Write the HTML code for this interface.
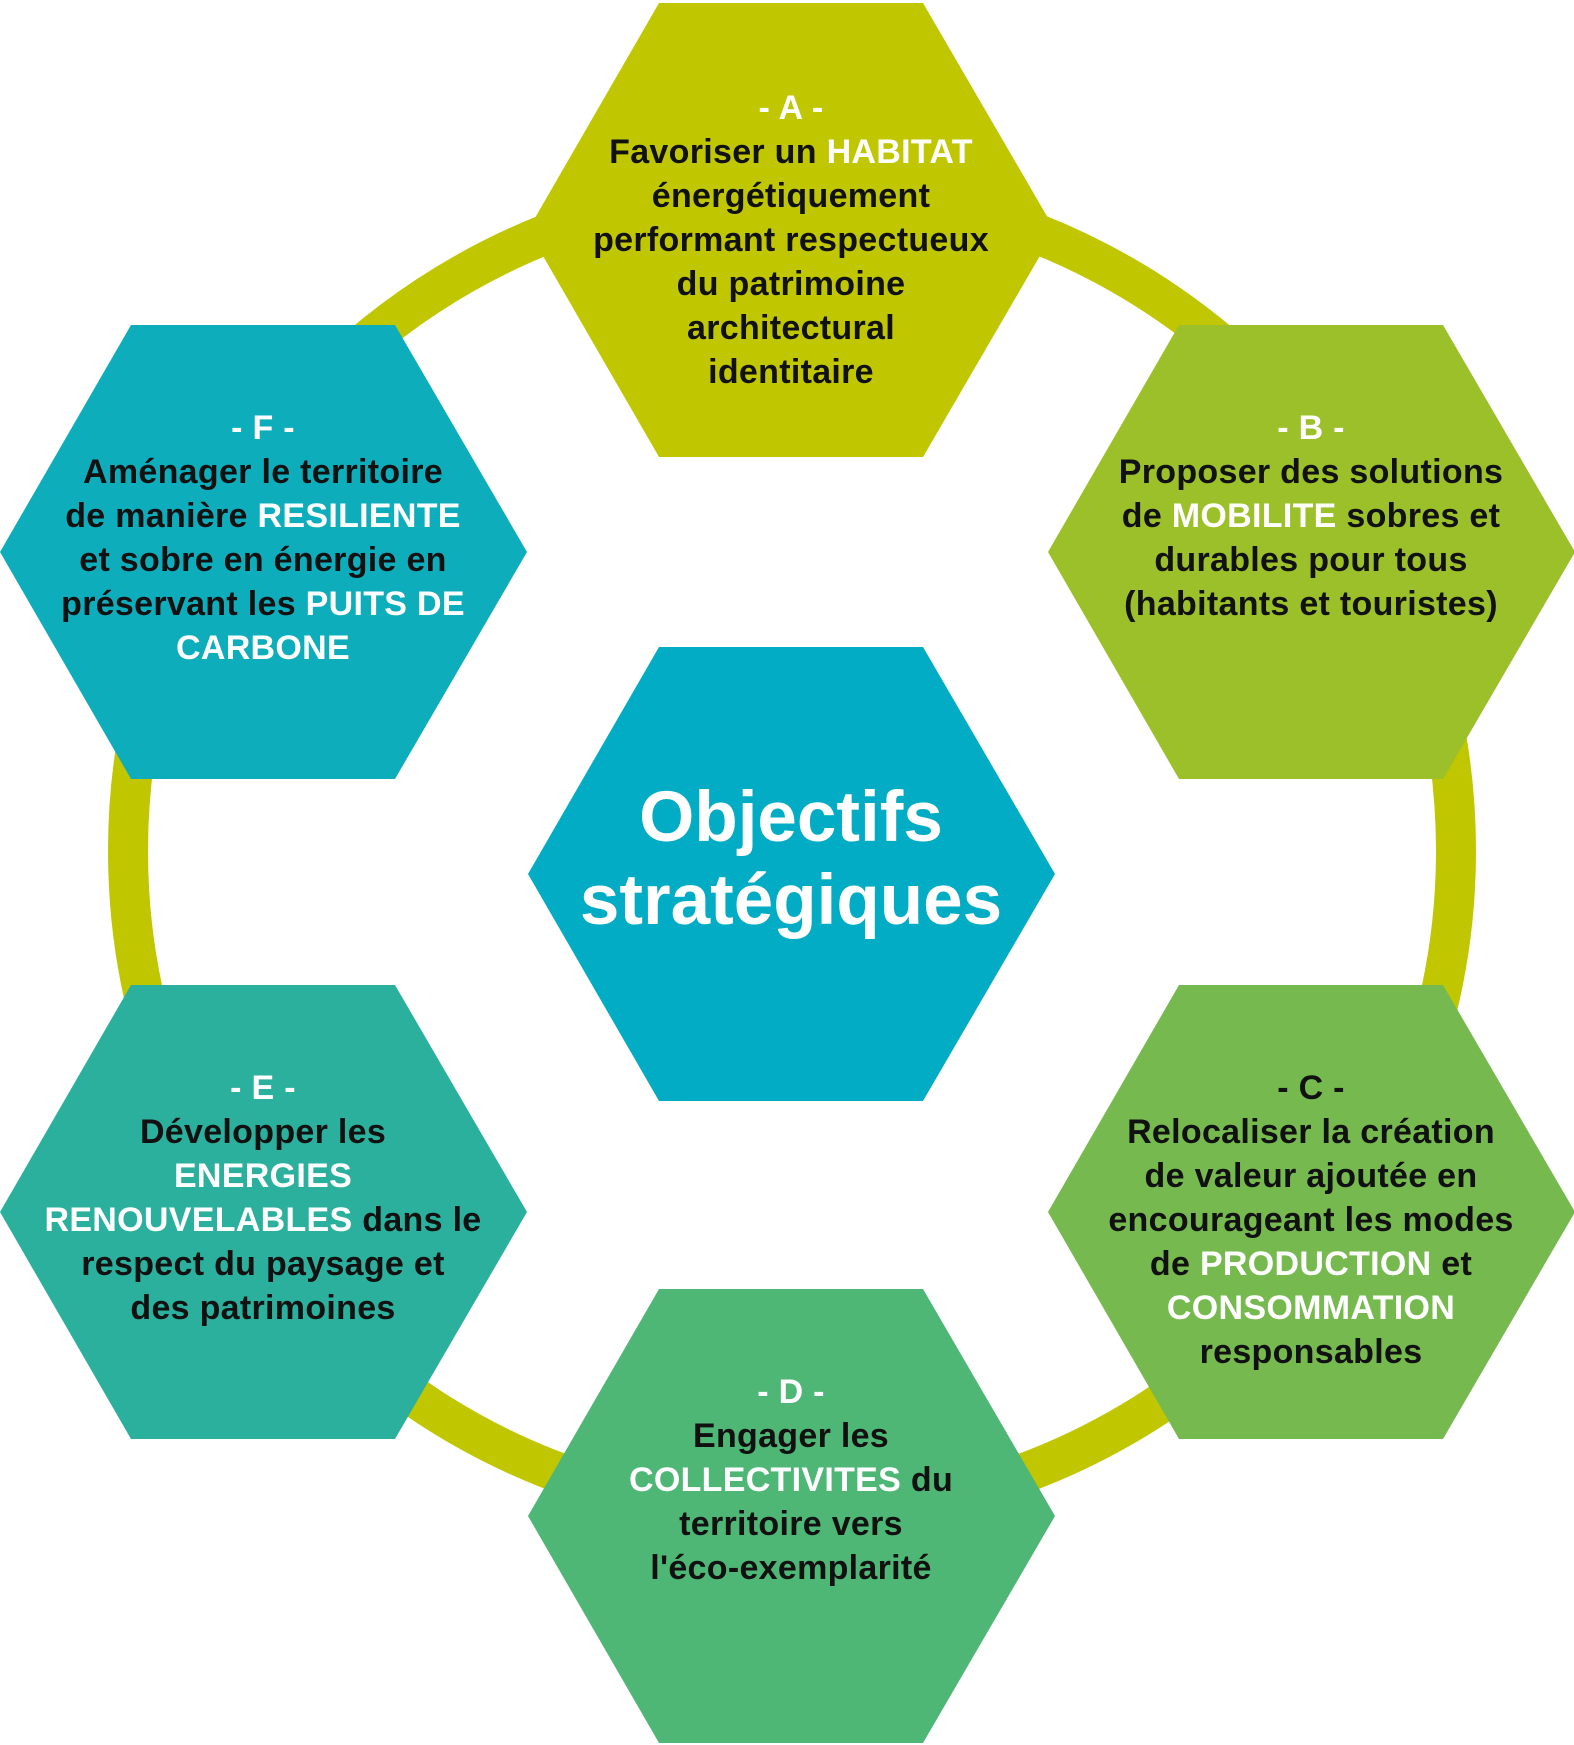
<!DOCTYPE html>
<html><head><meta charset="utf-8"><style>
body{margin:0;width:1574px;height:1745px;background:#fff;position:relative;overflow:hidden;font-family:"Liberation Sans",sans-serif}
svg{position:absolute;left:0;top:0}
.t{position:absolute;width:560px;text-align:center;font-size:34px;line-height:44px;color:#111;font-weight:bold;letter-spacing:0.3px}
.t b{color:#fff}
.c{position:absolute;left:491px;width:600px;text-align:center;color:#fff;font-weight:bold;font-size:71px;line-height:83px;top:776px}
</style></head><body>
<svg width="1574" height="1745">
<circle cx="792" cy="851" r="664" fill="none" stroke="#c0c700" stroke-width="40"/>
<g>
<polygon fill="#c0c700" points="659,3 923,3 1055,230 923,457 659,457 528,230"/>
<polygon fill="#9bc02a" points="1179,325 1443,325 1575,552 1443,779 1179,779 1048,552"/>
<polygon fill="#76b94f" points="1179,985 1443,985 1575,1212 1443,1439 1179,1439 1048,1212"/>
<polygon fill="#4fb776" points="659,1289 923,1289 1055,1516 923,1743 659,1743 528,1516"/>
<polygon fill="#2ab09c" points="131,985 395,985 527,1212 395,1439 131,1439 0,1212"/>
<polygon fill="#0eadbc" points="131,325 395,325 527,552 395,779 131,779 0,552"/>
<polygon fill="#02acc4" points="659,647 923,647 1055,874 923,1101 659,1101 528,874"/>
</g>
</svg>
<div class="t" style="left:511px;top:86px"><b>- A -</b><br>Favoriser un <b>HABITAT</b><br>énergétiquement<br>performant respectueux<br>du patrimoine<br>architectural<br>identitaire</div>
<div class="t" style="left:1031px;top:406px"><b>- B -</b><br>Proposer des solutions<br>de <b>MOBILITE</b> sobres et<br>durables pour tous<br>(habitants et touristes)</div>
<div class="t" style="left:1031px;top:1066px">- C -<br>Relocaliser la création<br>de valeur ajoutée en<br>encourageant les modes<br>de <b>PRODUCTION</b> et<br><b>CONSOMMATION</b><br>responsables</div>
<div class="t" style="left:511px;top:1370px"><b>- D -</b><br>Engager les<br><b>COLLECTIVITES</b> du<br>territoire vers<br>l'éco-exemplarité</div>
<div class="t" style="left:-17px;top:1066px"><b>- E -</b><br>Développer les<br><b>ENERGIES</b><br><b>RENOUVELABLES</b> dans le<br>respect du paysage et<br>des patrimoines</div>
<div class="t" style="left:-17px;top:406px"><b>- F -</b><br>Aménager le territoire<br>de manière <b>RESILIENTE</b><br>et sobre en énergie en<br>préservant les <b>PUITS DE</b><br><b>CARBONE</b></div>
<div class="c">Objectifs<br>stratégiques</div>
</body></html>
